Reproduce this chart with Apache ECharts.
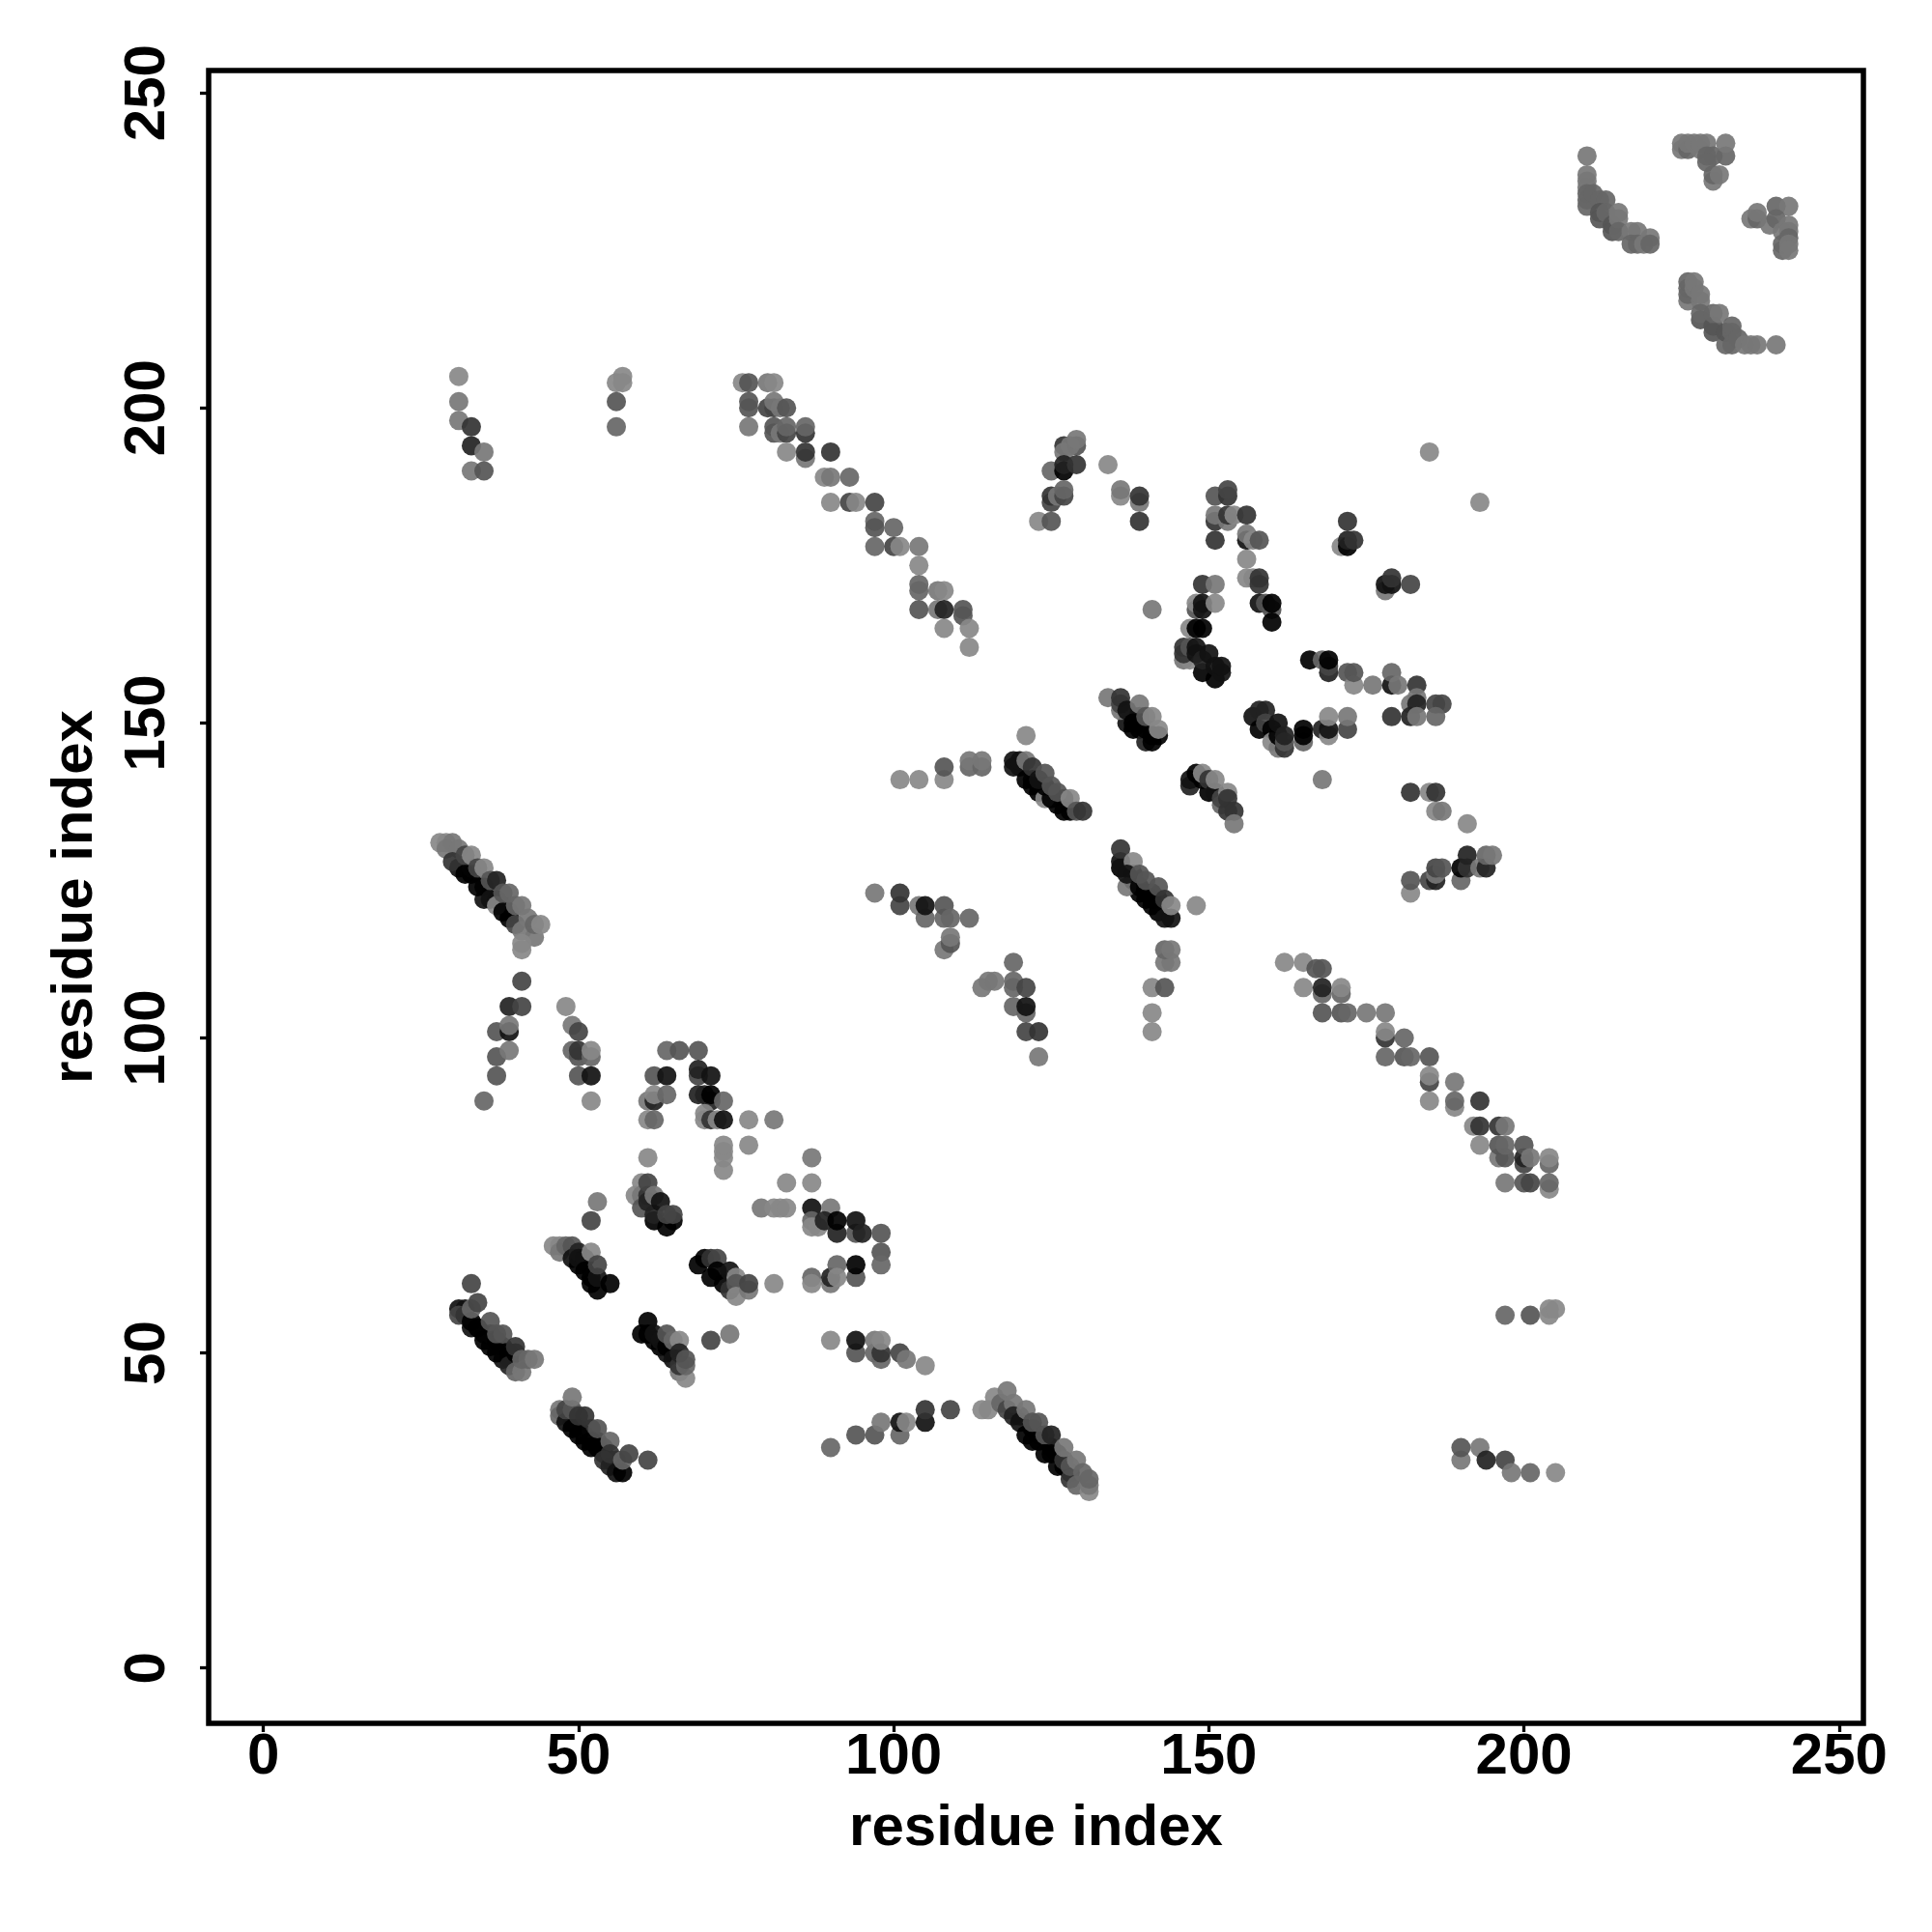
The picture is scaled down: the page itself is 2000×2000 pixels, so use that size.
<!DOCTYPE html>
<html>
<head>
<meta charset="utf-8">
<style>html,body{margin:0;padding:0;background:#fff}#c{width:2000px;height:2000px}</style>
<script src="https://cdn.jsdelivr.net/npm/echarts@6/dist/echarts.min.js"></script>
</head>
<body>
<div id="c"></div>
<script>
// Each contact: [residue x, residue y, shade], shade 0 (black) .. 8 (#888)
const tickValues = [0, 50, 100, 150, 200, 250];
const axisTitle = 'residue index';

const darkRidges = [[33,54,1],[35,53,1],[36,51,0],[38,49,1],[36,53,2],[38,51,1],[39,49,0],
 [51,37,0],[51,36,0],[53,36,1],[54,35,1],[54,34,0],[55,33,0],[56,33,1],[50,38,1],[49,39,1],[52,38,3],
 [33,126,0],[35,124,1],[35,122,1],[37,122,0],[38,121,1],[39,119,0],[39,120,0],[31,127,1],[33,127,3],
 [122,38,0],[123,37,1],[125,35,1],[126,34,1],[127,32,0],[128,31,1],[120,40,2],
 [62,52,0],[63,51,0],[64,50,1],[65,50,0],
 [122,141,1],[123,140,1],[125,139,0],[126,137,0],[127,138,1],
 [137,150,1],[138,151,1],[139,151,1],
 [138,125,0],[138,126,1],[139,123,0],[140,123,0],[141,123,1],[142,120,0],[142,122,1]];
const leftArc = [[41,109,4],[39,105,2],[41,105,4],[37,101,5],[39,101,1],[39,102,7],[37,97,5],[39,98,7],[37,94,5],[35,90,6],
 [48,105,8],[49,102,7],[50,101,4],[49,98,6],[50,97,5],[50,98,3],[52,97,6],[52,98,8],[50,94,5],[52,94,1],[52,90,8]];
const loopCluster = [[64,98,6],[66,98,5],[69,98,5],[62,94,5],[64,94,1],[69,94,4],[69,95,2],[71,94,1],[69,91,2],[70,91,2],[71,90,2],[71,91,0],[73,90,6],
 [61,90,7],[62,90,2],[62,91,8],[64,91,6],[61,87,8],[62,87,6],[70,88,8],[70,87,8],[71,87,3],[72,87,8],[73,87,1],[77,87,8],[81,87,7],
 [73,79,8],[73,81,8],[73,82,8],[73,83,8],[77,83,8],[61,81,8],[87,81,7],[83,77,8],[87,77,8],[79,73,7],[81,73,8],[82,73,8],[83,73,8]];
const bandA = [[60,77,8],[59,75,8],[60,75,7],[60,73,5],[61,75,3],[61,74,2],[62,71,0],[61,77,4],[62,75,7],[62,72,2],[64,70,0],[63,74,1],[65,71,0],[64,72,4],[65,72,4]];
const bandB = [[53,74,7],[52,71,4],[46,67,8],[47,67,8],[47,66,7],[48,67,6],[49,67,5],[49,65,1],[50,64,0],[50,66,2],[50,65,1],[51,65,1],[51,63,0],[52,62,0],[52,61,0],[53,60,0],[53,62,1],[52,66,8],[53,64,4],[55,61,0]];
const bandC = [[33,61,4],[31,57,1],[32,57,1],[31,56,4],[32,56,3],[33,55,0],[34,54,0],[33,57,6],[34,58,4],[35,52,0],[37,52,0],[36,55,5],[37,53,5],[38,53,5],[37,50,0],[39,50,0],[39,48,2],[40,47,6],[41,47,7],[40,50,0],[40,51,3],[41,49,6],[42,49,6],[43,49,7]];
const bandD = [[61,53,0],[60,53,0],[61,55,0],[62,53,1],[63,52,1],[64,51,0],[65,49,1],[64,53,5],[65,52,6],[66,52,8],[66,47,7],[67,46,8],[66,48,3],[67,48,6],[66,50,2],[67,49,5],
 [71,52,4],[74,53,7]];
const bandE = [[69,64,0],[70,65,0],[71,65,3],[72,65,4],[71,62,0],[72,63,0],[73,61,0],[74,60,3],[74,63,1],[75,62,8],[75,61,5],[75,59,8],[77,60,7],[77,61,4],[81,61,8]];
const bandF = [[47,41,7],[47,40,6],[48,39,1],[48,41,4],[49,38,0],[49,41,5],[49,43,7],[50,37,0],[50,40,3],[51,40,3],[52,36,0],[52,35,0],[53,35,0],[53,38,5],[55,36,6],[54,33,3],[55,32,2],[55,34,3],[56,31,1],[57,31,0],[57,33,6],[58,34,4],[61,33,4]];
const midCross = [[87,73,1],[87,71,6],[87,70,8],[90,73,7],[88,70,8],[89,71,2],[91,69,2],[91,71,0],[94,69,5],[94,71,1],[95,69,2],[98,69,5],[98,66,5],[98,64,6],
 [87,62,6],[87,61,8],[90,61,7],[90,62,2],[91,64,6],[91,62,8],[94,62,5],[94,64,0]];
const lowRow = [[90,52,8],[94,50,5],[94,52,1],[97,50,6],[97,52,7],[98,49,6],[98,50,3],[98,52,8],[101,50,4],[102,49,7],[105,48,8],
 [90,35,6],[94,37,5],[97,37,5],[98,39,7],[101,37,6],[101,39,1],[102,39,8],[105,39,1],[105,41,3],[109,41,4]];
const diagLow = [[114,41,8],[115,41,8],[116,43,8],[117,42,6],[118,41,4],[118,44,7],[119,42,7],[119,40,2],[120,39,1],[121,37,0],[122,36,0],[123,36,0],[121,41,7],[122,39,5],[123,39,5],[124,37,5],[124,34,0],[125,37,2],[125,34,0],[126,32,0],[127,33,3],[127,35,7],[128,30,3],[128,32,5],[129,29,6],[129,33,7],[130,31,6],[131,28,8],[131,29,7],[131,30,6]];
const leftTopDiag = [[28,131,8],[29,131,8],[30,131,7],[29,130,7],[31,130,7],[30,128,3],[32,126,0],[32,129,4],[33,129,8],[34,124,0],[34,127,4],[35,127,8],[36,122,1],[36,125,5],[37,125,2],[37,121,8],[38,120,0],[38,123,5],[39,123,6],[40,118,4],[40,121,6],[41,121,7],[41,117,7],[42,119,7],[43,116,7],[43,118,6],[44,118,8],[41,115,8],[41,114,8]];
const topLeft = [[31,205,8],[31,201,7],[31,198,7],[33,197,3],[33,194,2],[35,193,7],[33,190,7],[35,190,5],
 [57,205,8],[56,204,8],[57,204,8],[56,201,5],[56,197,6]];
const topDiag = [[76,204,8],[77,204,5],[80,204,7],[81,204,8],[77,200,5],[77,201,5],[80,200,4],[81,200,4],[81,201,7],[82,200,7],[83,200,5],[77,197,7],[81,196,5],[81,197,5],[82,196,7],[83,196,4],[83,197,6],[86,196,3],[86,197,6],[86,192,7],[83,193,8],[86,193,3],[90,193,3],[89,189,8],[90,189,7],[93,189,6],[90,185,8],[93,185,4],[94,185,8],[97,185,4],[97,182,6],[97,181,5],[100,181,6],[97,178,6],[100,178,4],[101,178,8],[104,178,7],[104,175,8],[104,172,6],[104,171,6],[107,171,7],[108,171,8],[104,168,5],[107,168,7],[108,168,2],[111,168,5],[111,167,5],[108,165,8],[112,165,8],[112,162,8]];
const upperLoop = [[127,194,3],[127,193,7],[129,194,5],[128,194,7],[129,195,7],[125,190,6],[127,190,0],[127,191,2],[129,191,3],[134,191,8],[125,185,4],[125,186,3],[126,186,7],[127,186,4],[127,187,6],[123,182,8],[125,182,5],
 [136,186,8],[136,187,7],[139,185,7],[139,186,3],[139,182,3],[141,168,7]];
const upperRight = [[151,186,5],[153,186,3],[153,187,4],[151,182,3],[151,183,7],[153,182,7],[153,183,3],[154,183,8],[156,183,3],[151,179,3],[156,179,1],[156,180,7],[157,179,8],[158,179,5],[156,176,8],[156,173,8],[157,173,8],[158,172,3],[158,173,3],[158,169,1],[159,169,5],[160,168,5],[160,169,0],[160,166,0]];
const arch = [[149,172,3],[151,172,7],[148,168,5],[148,169,8],[149,168,1],[149,169,1],[151,169,8],[147,165,8],[148,165,0],[149,165,0],
 [146,160,7],[147,160,8],[146,161,3],[146,162,3],[147,162,5],[148,161,1],[148,162,1],[149,158,0],[149,160,2],[150,161,1],[151,157,0],[151,159,1],[152,158,1],[152,159,1]];
const farRight = [[172,182,3],[171,178,8],[172,178,0],[172,179,2],[173,179,3],[178,171,7],[178,172,1],[179,172,1],[179,173,3],[182,172,4],[185,193,8],[193,185,8]];
const midRow = [[166,160,0],[168,160,6],[169,158,2],[169,159,4],[169,160,0],[172,158,5],[173,156,8],[173,158,5],[176,156,7],[179,156,1],[179,158,6],[180,156,7],[183,156,3],[183,154,7],[182,153,7],[183,153,2],[186,153,4],[187,153,4],
 [179,151,3],[182,151,2],[183,151,7],[186,151,6],[165,147,6],[165,148,0],[165,149,0],[168,149,2],[169,148,8],[169,149,1],[169,151,8],[172,149,4],[172,151,7],[168,141,7]];
const arcBottom = [[157,151,1],[158,152,2],[159,152,2],[158,149,0],[159,150,4],[160,149,0],[160,147,8],[161,146,7],[161,148,0],[161,150,1],[162,146,3],[162,147,5],[162,148,2]];
const rightTail = [[182,139,3],[185,139,8],[186,139,3],[186,136,8],[187,136,7],[191,134,8],
 [182,123,8],[182,125,5],[185,125,4],[186,125,2],[186,126,7],[186,127,4],[187,127,5],[190,125,6],[190,127,0],[191,127,3],[191,129,2],[193,127,7],[194,127,2],[194,129,6],[195,129,7]];
const bandG = [[121,148,8],[119,143,1],[119,144,1],[120,143,1],[120,144,1],[121,141,0],[122,140,0],[123,139,0],[121,144,7],[122,143,3],[124,138,8],[124,140,0],[125,138,0],[123,141,1],[124,142,5],[125,140,5],[126,139,5],[127,136,0],[128,136,0],[128,138,8],[129,136,5],[130,136,3],
 [101,141,8],[104,141,8],[108,141,8],[108,143,5],[112,143,6],[112,144,7],[114,143,6],[114,144,7]];
const bandH = [[134,154,7],[136,152,7],[136,153,4],[136,154,3],[137,152,1],[138,149,0],[138,150,0],[139,153,7],[139,149,0],[140,147,2],[140,149,0],[140,151,5],[141,147,0],[141,148,0],[141,151,8],[142,148,0],[142,149,8]];
const bandI = [[147,140,2],[147,141,1],[148,142,0],[149,141,0],[150,139,0],[149,142,8],[150,141,3],[151,139,1],[151,141,8],[152,137,6],[152,138,4],[153,139,8],[153,136,3],[153,138,3],[154,136,3],[154,134,7]];
const bandJ = [[136,127,0],[136,128,1],[136,130,3],[138,128,8],[137,124,7],[137,126,1],[139,124,0],[139,126,5],[140,122,0],[140,125,5],[141,121,0],[141,122,0],[142,124,5],[143,119,1],[143,122,3],[144,119,1],[144,121,8],[148,121,8]];
const midLeft = [[97,123,7],[101,121,4],[101,123,3],[104,121,7],[105,119,6],[105,121,1],[108,119,6],[108,121,5],[109,119,6],[112,119,6],[108,114,7],[109,115,5],[109,116,7],
 [119,112,6],[114,108,7],[115,109,7],[116,109,7],[119,108,6],[119,109,6],[121,108,4],[119,105,6],[121,104,6],[121,105,1],[121,101,4],[123,101,3],[123,97,7],
 [143,112,7],[144,112,7],[143,114,6],[144,114,7],[141,108,8],[143,108,5],[141,104,8],[141,101,8]];
const diagRight = [[162,112,8],[165,112,8],[167,111,5],[168,111,5],[165,108,8],[168,107,6],[168,108,2],[171,107,6],[171,108,8],[168,104,5],[171,104,5],[172,104,6],[175,104,7],[178,104,7],[178,100,3],[178,101,8],[181,100,6],[178,97,6],[181,97,5],[182,97,6],[185,97,5],[185,93,4],[185,94,8],[189,93,7],[185,90,8],[189,89,8],[189,90,6],[193,90,3],[192,86,8],[193,86,3],[196,86,3],[197,86,7],[193,83,8],[196,81,7],[196,83,5],[197,81,5],[197,83,6],[200,80,4],[200,81,2],[200,83,5],[201,81,7],[204,80,6],[204,81,8],[197,77,7],[200,77,5],[201,77,4],[204,76,8],[204,77,6]];
const lowerRight = [[197,56,6],[201,56,5],[204,56,8],[204,57,8],[205,57,8],[190,33,7],[190,35,5],[193,35,7],[194,33,2],[197,33,4],[198,31,7],[201,31,6],[205,31,8]];
const cornerA = [[210,240,7],[210,237,7],[210,236,7],[210,235,7],[210,234,6],[210,233,6],[210,232,6],[211,234,6],[212,233,6],[213,233,6],[212,231,5],[212,230,5],[213,231,6],[214,229,5],[214,228,5],[215,231,7],[215,230,7],[215,228,6],[217,228,7],[218,228,7],[217,226,6],[218,226,6],[219,226,7],[220,227,7],[220,226,6]];
const cornerB = [[225,241,7],[225,242,7],[226,241,6],[226,242,7],[227,242,7],[228,241,7],[228,242,7],[229,242,7],[229,240,6],[230,240,6],[232,240,6],[232,242,7],[229,239,6],[230,236,7],[230,237,6],[231,237,7]];
const cornerC = [[236,230,7],[237,230,6],[237,231,7],[240,232,6],[242,232,7],[239,229,7],[240,230,6],[241,228,7],[241,226,6],[241,225,6],[242,229,7],[242,228,7],[242,227,6],[242,226,7],[242,225,7]];
const cornerD = [[226,217,7],[226,218,6],[226,219,6],[226,220,6],[227,219,7],[227,220,7],[228,217,7],[228,218,7],[228,214,5],[228,215,6],[230,212,5],[230,213,5],[230,215,6],[231,215,7],[232,210,6],[232,212,5],[233,212,6],[233,213,6],[233,210,6],[234,211,6],[235,210,7],[236,210,7],[237,210,7],[240,210,7]];

const contacts = [].concat(darkRidges, leftArc, loopCluster, bandA, bandB, bandC, bandD, bandE, bandF, midCross, lowRow, diagLow,
  leftTopDiag, topLeft, topDiag, upperLoop, upperRight, arch, farRight, midRow, arcBottom, rightTail, bandG, bandH, bandI, bandJ,
  midLeft, diagRight, lowerRight, cornerA, cornerB, cornerC, cornerD);

const FONT = '"Liberation Sans", Arial, sans-serif';
const chart = echarts.init(document.getElementById('c'), null, {renderer: 'canvas'});
const tickStyle = {show: true, length: 9, lineStyle: {color: '#000', width: 3.3}, customValues: tickValues};
function axis(nameGap, extra) {
  return Object.assign({
    type: 'value',
    name: axisTitle,
    nameLocation: 'middle',
    nameGap: nameGap,
    nameTextStyle: {fontFamily: FONT, fontWeight: 'bold', fontSize: 60, color: '#000'},
    splitLine: {show: false},
    axisLine: {show: false, onZero: false},
    axisTick: tickStyle
  }, extra);
}
const labelBase = {show: true, customValues: tickValues, fontFamily: FONT, fontWeight: 'bold', fontSize: 60, color: '#000', hideOverlap: false};
chart.setOption({
  animation: false,
  backgroundColor: '#fff',
  grid: {left: 216, right: 71, top: 73, bottom: 216, show: true, borderColor: '#000', borderWidth: 5.5, backgroundColor: 'transparent', containLabel: false},
  xAxis: axis(79, {min: -8.68, max: 253.85, axisLabel: Object.assign({margin: 5}, labelBase)}),
  yAxis: axis(108, {min: -8.78, max: 253.55, nameRotate: 90, axisLabel: Object.assign({margin: 33, rotate: 90, align: 'center', verticalAlign: 'bottom'}, labelBase)}),
  series: [{
    type: 'scatter',
    data: contacts,
    symbol: 'circle',
    symbolSize: 20,
    itemStyle: {
      opacity: 0.92,
      color: function (p) { const g = p.data[2] * 17; return 'rgb(' + g + ',' + g + ',' + g + ')'; }
    },
    emphasis: {disabled: true}
  }]
});
</script>
</body>
</html>
